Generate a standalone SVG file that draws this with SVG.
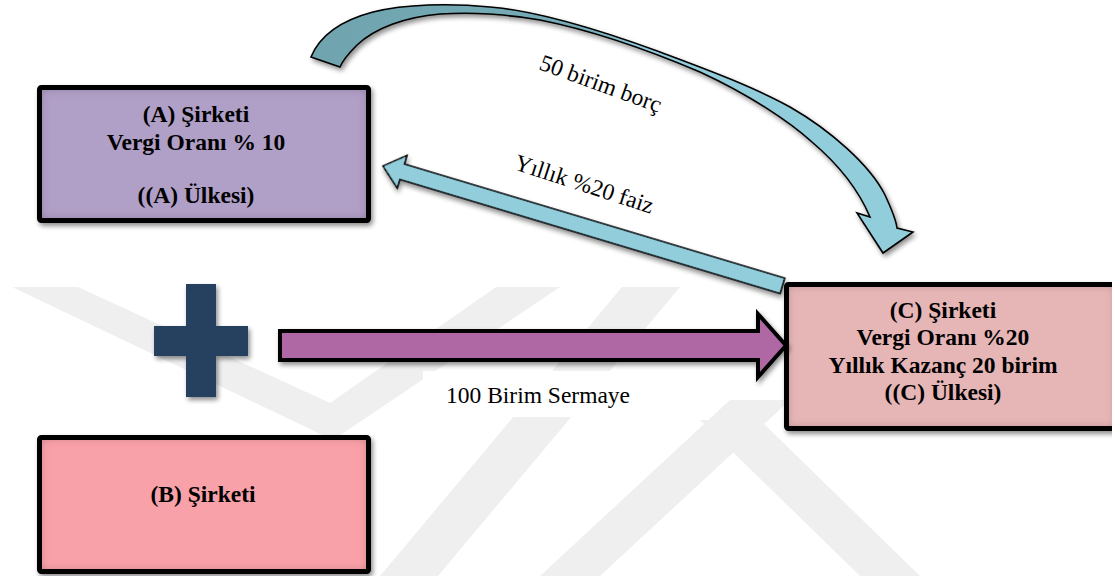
<svg xmlns="http://www.w3.org/2000/svg" width="1112" height="576" viewBox="0 0 1112 576">
<defs>
<style>
.lbl{font-family:'Liberation Serif','Tinos','DejaVu Serif','Noto Serif',serif;font-size:23.5px;fill:#000}
.b{font-weight:bold;text-anchor:middle}
.wm{fill:#efefef}
.box{stroke:#000;stroke-width:5;fill:none}
.arr{stroke:#000;stroke-linejoin:miter}
</style>
<filter id="ds" x="-10%" y="-10%" width="130%" height="140%">
<feGaussianBlur in="SourceAlpha" stdDeviation="2.5"/>
<feOffset dx="2" dy="3"/>
<feComponentTransfer><feFuncA type="linear" slope="0.45"/></feComponentTransfer>
<feMerge><feMergeNode/><feMergeNode in="SourceGraphic"/></feMerge>
</filter>
<filter id="inner" x="-5%" y="-5%" width="110%" height="110%">
<feComponentTransfer in="SourceAlpha" result="inv"><feFuncA type="table" tableValues="1 0"/></feComponentTransfer>
<feGaussianBlur in="inv" stdDeviation="5" result="blur"/>
<feComposite in="blur" in2="SourceAlpha" operator="in" result="sh"/>
<feFlood flood-color="#2a1020" flood-opacity="0.6"/>
<feComposite in2="sh" operator="in" result="shc"/>
<feMerge><feMergeNode in="SourceGraphic"/><feMergeNode in="shc"/></feMerge>
</filter>
<linearGradient id="cg" gradientUnits="userSpaceOnUse" x1="311" y1="0" x2="913" y2="0">
<stop offset="0" stop-color="#6fa4af"/>
<stop offset="0.45" stop-color="#76acb7"/>
<stop offset="0.56" stop-color="#92cddc"/>
<stop offset="1" stop-color="#92cddc"/>
</linearGradient>
</defs>
<rect width="1112" height="576" fill="#fff"/>
<g id="watermark">
<polygon class="wm" points="12,287 78,287 330,403 496,287 560,287 333,440"/>
<polygon class="wm" points="622,287 680,287 438,576 380,576"/>
<polygon class="wm" points="540,576 600,576 790,400 730,400"/>
<polygon class="wm" points="700,420 760,420 920,576 860,576"/>
</g>
<g id="nodeA">
<g filter="url(#ds)">
<rect x="39.5" y="87.5" width="329" height="133" rx="2" fill="#b09fc6" filter="url(#inner)"/>
<rect class="box" x="39.5" y="87.5" width="329" height="133" rx="2"/>
</g>
<text class="lbl b" x="196" y="122">(A) Şirketi</text>
<text class="lbl b" x="196" y="150">Vergi Oranı % 10</text>
<text class="lbl b" x="196" y="203">((A) Ülkesi)</text>
</g>
<g id="nodeB">
<g filter="url(#ds)">
<rect x="39.5" y="437.5" width="329" height="134" rx="2" fill="#f9a1a8" filter="url(#inner)"/>
<rect class="box" x="39.5" y="437.5" width="329" height="134" rx="2"/>
</g>
<text class="lbl b" x="203" y="502">(B) Şirketi</text>
</g>
<g id="nodeC">
<g filter="url(#ds)">
<rect x="786.5" y="284.5" width="330" height="144" rx="2" fill="#e6b5b6" filter="url(#inner)"/>
<rect class="box" x="786.5" y="284.5" width="330" height="144" rx="2"/>
</g>
<text class="lbl b" x="943" y="318">(C) Şirketi</text>
<text class="lbl b" x="943" y="345">Vergi Oranı %20</text>
<text class="lbl b" x="943" y="373">Yıllık Kazanç 20 birim</text>
<text class="lbl b" x="943" y="400">((C) Ülkesi)</text>
</g>
<g id="plus" filter="url(#ds)" fill="#253f5f">
<rect x="186" y="284" width="30" height="113"/>
<rect x="154" y="326" width="94" height="30"/>
</g>
<g id="connectors">
<path class="arr" filter="url(#ds)" fill="url(#cg)" stroke-width="1.6" d="M311,57 C318,40 335,22 373,12 C405,4 450,3 490,7 C540,11 600,30 660,52 C700,67 750,85 790,107 C830,130 870,165 885,195 C892,210 896,220 897,228 L913,232 L883,253 L857,213 L870,217 C862,198 845,170 812,142 C790,122 750,95 700,72 C660,55 600,32 540,20 C505,14 470,12 440,14 C405,17 375,28 357,45 C349,53 343,60 340,67 Z"/>
<path class="arr" filter="url(#ds)" fill="#92cddc" stroke-width="1.6" transform="translate(383,166) rotate(16.7)" d="M0,0 L20,-17 L20,-8 L417,-8 L417,8 L20,8 L20,17 Z"/>
<path class="arr" filter="url(#ds)" fill="#b067a5" stroke-width="4" d="M280,331 L758,331 L758,314 L786,345.5 L758,377 L758,360 L280,360 Z"/>
<text class="lbl" transform="translate(538,69) rotate(20)">50 birim borç</text>
<text class="lbl" transform="translate(513,169) rotate(18)">Yıllık %20 faiz</text>
<rect x="423" y="371" width="248" height="46" fill="#fff"/>
<text class="lbl" x="446" y="403">100 Birim Sermaye</text>
</g>
</svg>
